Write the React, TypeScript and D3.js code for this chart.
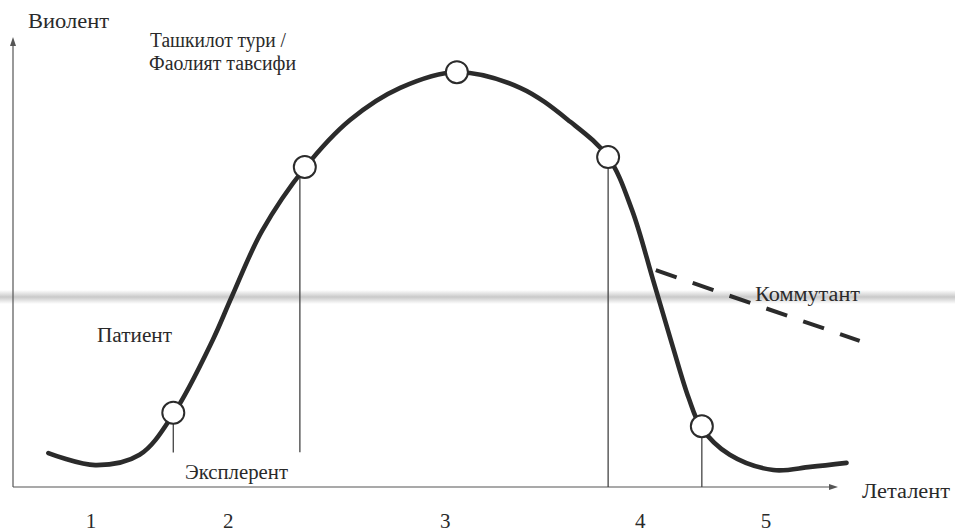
import * as d3 from 'd3';
import { useRef, useEffect } from 'react';

// curve (x: 0..100 along Леталент axis, y: 0..100 along Виолент axis)
const curveX = [4.3, 10.0, 15.4, 19.6, 24.3, 26.6, 30.3, 35.5, 41.0, 47.1, 54.0, 61.7, 67.8, 72.4, 75.3, 77.9, 80.2, 82.2, 83.7, 87.2, 92.5, 97.0, 101.4];
const curveY = [7.6, 4.9, 7.2, 16.6, 32.9, 42.5, 57.3, 71.4, 82.1, 89.3, 92.8, 89.3, 81.7, 73.8, 62.0, 46.1, 31.8, 19.9, 13.4, 7.2, 3.8, 4.5, 5.4];

// strategy points (circles)
const nodeX = [19.5, 35.5, 54.0, 72.4, 83.8];
const nodeY = [16.6, 71.6, 92.8, 73.8, 13.6];

// vertical drop lines: x, top y, bottom y
const dropX = [19.5, 34.9, 72.4, 83.8];
const dropTop = [16.6, 70.5, 73.8, 13.6];
const dropBottom = [7.7, 7.8, 0, 0];

// commutant dashed line
const commX = [78.2, 103.0];
const commY = [48.5, 32.7];

const zoneLabels = ['1', '2', '3', '4', '5'];
const zoneX = [9.5, 26.2, 52.6, 76.3, 91.6];

// text labels: content, left x, baseline y (pixels), width
const labelText = ['Виолент', 'Ташкилот тури /', 'Фаолият тавсифи', 'Патиент', 'Эксплерент', 'Коммутант', 'Леталент'];
const labelX = [28, 150, 149, 97, 185, 755, 862];
const labelY = [28, 47, 70, 342, 479, 301, 498];
const labelW = [81, 136, 147, 75, 103, 105, 88];

const App = () => {
    const svgRef = useRef<SVGSVGElement | null>(null);

    useEffect(() => {
        const W = 955, H = 532;
        const x = d3.scaleLinear().domain([0, 100]).range([13, 835]);
        const y = d3.scaleLinear().domain([0, 100]).range([487, 40]);

        const svg = d3.select(svgRef.current);
        svg.selectAll('*').remove();
        svg.attr('width', W).attr('height', H);

        svg.append('rect').attr('width', W).attr('height', H).attr('fill', '#fff');

        // scanner streak
        const grad = svg.append('defs').append('linearGradient')
            .attr('id', 'streak').attr('x1', 0).attr('x2', 0).attr('y1', 0).attr('y2', 1);
        grad.append('stop').attr('offset', '0%').attr('stop-color', '#fff');
        grad.append('stop').attr('offset', '50%').attr('stop-color', '#c9c9c9');
        grad.append('stop').attr('offset', '100%').attr('stop-color', '#fff');
        svg.append('rect').attr('x', 0).attr('y', 290).attr('width', W).attr('height', 14)
            .attr('fill', 'url(#streak)');

        const font = 'Liberation Serif';
        const ink = '#2b2b2b';

        // axes
        svg.append('line').attr('x1', x(0)).attr('y1', y(0)).attr('x2', x(0)).attr('y2', y(100) + 2)
            .attr('stroke', '#555').attr('stroke-width', 1.2);
        svg.append('line').attr('x1', x(0)).attr('y1', y(0)).attr('x2', x(100) - 2).attr('y2', y(0))
            .attr('stroke', '#555').attr('stroke-width', 1.2);
        svg.append('path')
            .attr('d', `M${x(0)},${y(100) - 3} l-3,9 l6,0 z`).attr('fill', '#555');
        svg.append('path')
            .attr('d', `M${x(100) + 3},${y(0)} l-9,-3 l0,6 z`).attr('fill', '#555');

        // drop lines
        svg.selectAll('line.drop')
            .data(dropX)
            .enter()
            .append('line')
            .attr('class', 'drop')
            .attr('x1', d => x(d)).attr('x2', d => x(d))
            .attr('y1', (_, i) => y(dropTop[i])).attr('y2', (_, i) => y(dropBottom[i]))
            .attr('stroke', '#444').attr('stroke-width', 1.3);

        // main curve
        const line = d3.line<number>()
            .x((_, i) => x(curveX[i]))
            .y(d => y(d))
            .curve(d3.curveCatmullRom.alpha(0.5));
        svg.append('path')
            .datum(curveY)
            .attr('d', line)
            .attr('fill', 'none')
            .attr('stroke', ink)
            .attr('stroke-width', 4.6)
            .attr('stroke-linecap', 'round');

        // commutant
        svg.append('line')
            .attr('x1', x(commX[0])).attr('y1', y(commY[0]))
            .attr('x2', x(commX[1])).attr('y2', y(commY[1]))
            .attr('stroke', ink).attr('stroke-width', 4)
            .attr('stroke-dasharray', '22 17');

        // nodes
        svg.selectAll('circle.node')
            .data(nodeX)
            .enter()
            .append('circle')
            .attr('class', 'node')
            .attr('cx', d => x(d))
            .attr('cy', (_, i) => y(nodeY[i]))
            .attr('r', 11)
            .attr('fill', '#fff')
            .attr('stroke', ink)
            .attr('stroke-width', 2);

        svg.selectAll('text.label')
            .data(labelText)
            .enter()
            .append('text')
            .attr('class', 'label')
            .text(d => d)
            .attr('x', (_, i) => labelX[i])
            .attr('y', (_, i) => labelY[i])
            .attr('textLength', (_, i) => labelW[i])
            .attr('lengthAdjust', 'spacingAndGlyphs')
            .style('font-family', font)
            .style('font-size', '20px')
            .attr('fill', '#2a2a2a');

        svg.selectAll('text.zone')
            .data(zoneLabels)
            .enter()
            .append('text')
            .attr('class', 'zone')
            .text(d => d)
            .attr('x', (_, i) => x(zoneX[i]))
            .attr('y', 528)
            .attr('text-anchor', 'middle')
            .style('font-family', font)
            .style('font-size', '21px')
            .attr('fill', '#2a2a2a');
    }, []);

    return (
        <svg ref={svgRef} style={{ position: 'absolute', left: 0, top: 0, display: 'block' }}></svg>
    );
};

export default App;
